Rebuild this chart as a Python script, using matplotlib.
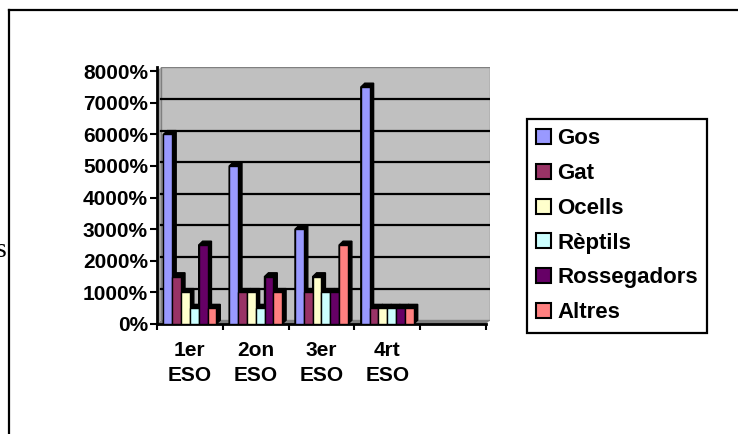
import matplotlib
matplotlib.use('Agg')
from matplotlib import pyplot as plt
from matplotlib.lines import Line2D
import numpy as np

cursos = ['1er\nESO', '2on\nESO', '3er\nESO', '4rt\nESO', '']
animals = ['Gos', 'Gat', 'Ocells', 'Rèptils', 'Rossegadors', 'Altres']
gos = [6000, 5000, 3000, 7500]
gat = [1500, 1000, 1000, 500]
ocells = [1000, 1000, 1500, 500]
reptils = [500, 500, 1000, 500]
rossegadors = [2500, 1500, 1000, 500]
altres = [500, 1000, 2500, 500]
colors = ['#9999FF', '#993366', '#FFFFCC', '#CCFFFF', '#660066', '#FF8080']
yticks = np.arange(0, 8001, 1000)
ylabels = [f'{v}%' for v in yticks]

plt.rcParams['font.family'] = ['Liberation Sans', 'DejaVu Sans']
plt.rcParams['font.weight'] = 'bold'

fig = plt.figure(figsize=(7.38, 4.34), dpi=100)
ax = fig.add_axes([0.2127, 0.2535, 0.4512, 0.5912])

# "profunditat" del grafic 3D
dx = 0.06
dy = 120
w = 0.134
n_cat = len(cursos)
x0, x1 = -0.5, n_cat - 0.5
ytop = yticks[-1]

# paret del fons, terra i paret esquerra
ax.fill([x0 + dx, x1 + dx, x1 + dx, x0 + dx], [dy, dy, ytop + dy, ytop + dy],
        facecolor='#C0C0C0', edgecolor='#808080', lw=1, zorder=0)
ax.fill([x0, x1, x1 + dx, x0 + dx], [0, 0, dy, dy],
        facecolor='#808080', edgecolor='none', zorder=0.5)
ax.fill([x0, x0 + dx, x0 + dx, x0], [0, dy, ytop + dy, ytop],
        facecolor='#A0A0A0', edgecolor='none', zorder=0.5)
for v in yticks[1:-1]:
    ax.plot([x0 + dx, x1 + dx], [v + dy, v + dy], color='black', lw=1.6, zorder=1)

series = [gos, gat, ocells, reptils, rossegadors, altres]
for i, (vals, c, name) in enumerate(zip(series, colors, animals)):
    xs = np.arange(len(vals)) + (i - 2.5) * w
    for x, h in zip(xs, vals):
        xl, xr = x - w / 2, x + w / 2
        ax.fill([xl, xl, xl + dx, xr + dx, xr + dx, xr], [0, h, h + dy, h + dy, dy, 0],
                color='black', zorder=2)
    ax.bar(xs, vals, width=w, color=c, edgecolor='black', linewidth=1, zorder=3, label=name)

ax.set_xlim(x0, x1 + dx)
ax.set_ylim(0, ytop + dy)
ax.set_yticks(yticks)
ax.set_yticklabels(ylabels, fontsize=15, fontweight='bold')
ax.set_xticks(np.arange(n_cat))
ax.set_xticklabels(cursos, fontsize=15, fontweight='bold', linespacing=1.38)
ax.set_xticks(np.arange(n_cat + 1) - 0.5, minor=True)
ax.tick_params(axis='x', which='major', length=0, pad=12.5)
ax.tick_params(axis='x', which='minor', length=4, width=1.5, direction='out')
ax.tick_params(axis='y', length=5, width=1.5, direction='out', pad=1.5)
for s in ['top', 'right']:
    ax.spines[s].set_visible(False)
ax.spines['left'].set_linewidth(2)
ax.spines['bottom'].set_linewidth(2)
ax.spines['bottom'].set_bounds(x0, x1)
ax.set_facecolor('white')

leg = fig.legend(loc='upper left', bbox_to_anchor=(0.714, 0.7258), borderaxespad=0,
                 fancybox=False, edgecolor='black', framealpha=1,
                 prop={'size': 16, 'weight': 'bold'},
                 handlelength=0.65, handleheight=0.65, handletextpad=0.3,
                 labelspacing=0.62, borderpad=0.42)
leg.get_frame().set_linewidth(1.6)
for p in leg.get_patches():
    p.set_edgecolor('black')
    p.set_linewidth(1.5)

# marc exterior i la lletra del text del document
fig.add_artist(Line2D([9 / 738, 9 / 738], [0, 1 - 10 / 434], color='black', lw=1.6))
fig.add_artist(Line2D([9 / 738, 1], [1 - 10 / 434, 1 - 10 / 434], color='black', lw=1.6))
fig.text(7 / 738, 1 - 257 / 434, 's', family='Liberation Serif', fontweight='normal',
         fontsize=20, ha='right', va='baseline')

fig.savefig('out.png', dpi=100)
